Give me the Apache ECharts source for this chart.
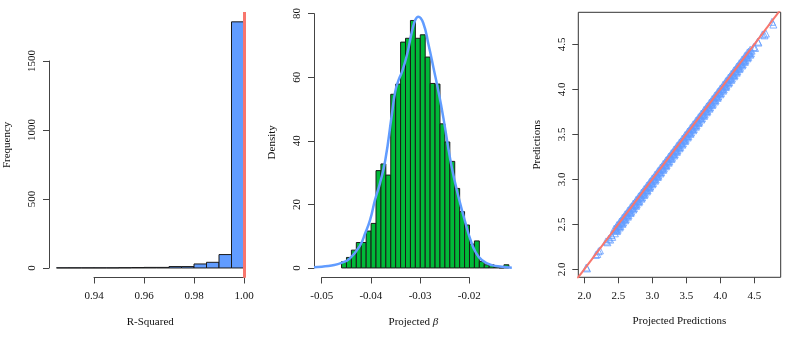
<!DOCTYPE html>
<html>
<head>
<meta charset="utf-8">
<script src="https://cdn.jsdelivr.net/npm/echarts@6/dist/echarts.min.js"></script>
<style>
html, body { margin: 0; padding: 0; background: #fff; }
#main { width: 793px; height: 340px; }
</style>
</head>
<body>
<div id="main"></div>
<script>
// panel 1: R-squared histogram
var r2Breaks = [0.925, 0.93, 0.935, 0.94, 0.945, 0.95, 0.955, 0.96, 0.965, 0.97, 0.975, 0.98, 0.985, 0.99, 0.995, 1.0];
var r2Counts = [1, 1, 1, 1, 1, 2, 3, 4, 4, 10, 10, 29, 41, 97, 1783];
var r2Ref = 1.0;
var r2Ticks = [0.94, 0.96, 0.98, 1.0];
var freqTicks = [0, 500, 1000, 1500];

// panel 2: projected beta histogram + density
var betaBreaks = [-0.046, -0.045, -0.044, -0.043, -0.042, -0.041, -0.040, -0.039, -0.038, -0.037, -0.036,
    -0.035, -0.034, -0.033, -0.032, -0.031, -0.030, -0.029, -0.028, -0.027, -0.026, -0.025, -0.024,
    -0.023, -0.022, -0.021, -0.020, -0.019, -0.018, -0.017, -0.016, -0.015, -0.014, -0.013, -0.012];
var betaDensity = [2.0, 3.3, 5.6, 8.0, 8.0, 11.6, 14.0, 30.6, 32.7, 29.2, 54.6, 57.8, 71.0, 72.2, 77.8,
    72.2, 73.3, 66.3, 58.0, 57.8, 45.3, 39.6, 33.5, 25.0, 17.7, 13.5, 7.5, 8.5, 2.0, 1.0, 1.0, 0.3, 0, 1.0];
var kdeX = [-0.0516, -0.0500, -0.0480, -0.0460, -0.0443, -0.0422, -0.0412, -0.0402, -0.0392, -0.0382,
    -0.0371, -0.0358, -0.0351, -0.0344, -0.0337, -0.0327, -0.0317, -0.0310, -0.0304, -0.0294, -0.0283,
    -0.0273, -0.0263, -0.0253, -0.0239, -0.0229, -0.0219, -0.0209, -0.0199, -0.0188, -0.0175, -0.0155,
    -0.0134, -0.0114];
var kdeY = [0.2, 0.4, 0.8, 1.6, 3.0, 7.2, 10.9, 15.1, 21.4, 26.6, 34.0, 48.0, 55.4, 59.1, 61.7, 67.0,
    74.3, 78.0, 79.0, 77.0, 70.0, 62.8, 55.4, 47.1, 34.0, 26.6, 20.3, 14.6, 9.3, 5.1, 2.5, 0.9, 0.4, 0.1];
var betaTicks = [-0.05, -0.04, -0.03, -0.02];
var densTicks = [0, 20, 40, 60, 80];

// panel 3: [projected prediction, prediction]
var predPoints = [
    [2.03, 2.02], [2.04, 2.01], [2.17, 2.16], [2.19, 2.17], [2.21, 2.20], [2.23, 2.21],
    [2.32, 2.31], [2.34, 2.30], [2.36, 2.34], [2.38, 2.33], [2.40, 2.38], [2.41, 2.36],
    [2.44, 2.45], [2.46, 2.435], [2.45, 2.40], [2.48, 2.49], [2.50, 2.475], [2.49, 2.44],
    [2.52, 2.53], [2.54, 2.515], [2.53, 2.48], [2.56, 2.57], [2.58, 2.555], [2.57, 2.52],
    [2.60, 2.61], [2.62, 2.595], [2.61, 2.56], [2.64, 2.65], [2.66, 2.635], [2.65, 2.60],
    [2.68, 2.69], [2.70, 2.675], [2.69, 2.64], [2.72, 2.73], [2.74, 2.715], [2.73, 2.68],
    [2.76, 2.77], [2.78, 2.755], [2.77, 2.72], [2.80, 2.81], [2.82, 2.795], [2.81, 2.76],
    [2.84, 2.85], [2.86, 2.835], [2.85, 2.80], [2.88, 2.89], [2.90, 2.875], [2.89, 2.84],
    [2.92, 2.93], [2.94, 2.915], [2.93, 2.88], [2.96, 2.97], [2.98, 2.955], [2.97, 2.92],
    [3.00, 3.01], [3.02, 2.995], [3.01, 2.96], [3.04, 3.05], [3.06, 3.035], [3.05, 3.00],
    [3.08, 3.09], [3.10, 3.075], [3.09, 3.04], [3.12, 3.13], [3.14, 3.115], [3.13, 3.08],
    [3.16, 3.17], [3.18, 3.155], [3.17, 3.12], [3.20, 3.21], [3.22, 3.195], [3.21, 3.16],
    [3.24, 3.25], [3.26, 3.235], [3.25, 3.20], [3.28, 3.29], [3.30, 3.275], [3.29, 3.24],
    [3.32, 3.33], [3.34, 3.315], [3.33, 3.28], [3.36, 3.37], [3.38, 3.355], [3.37, 3.32],
    [3.40, 3.41], [3.42, 3.395], [3.41, 3.36], [3.44, 3.45], [3.46, 3.435], [3.45, 3.40],
    [3.48, 3.49], [3.50, 3.475], [3.49, 3.44], [3.52, 3.53], [3.54, 3.515], [3.53, 3.48],
    [3.56, 3.57], [3.58, 3.555], [3.57, 3.52], [3.60, 3.61], [3.62, 3.595], [3.61, 3.56],
    [3.64, 3.65], [3.66, 3.635], [3.65, 3.60], [3.68, 3.69], [3.70, 3.675], [3.69, 3.64],
    [3.72, 3.73], [3.74, 3.715], [3.73, 3.68], [3.76, 3.77], [3.78, 3.755], [3.77, 3.72],
    [3.80, 3.81], [3.82, 3.795], [3.81, 3.76], [3.84, 3.85], [3.86, 3.835], [3.85, 3.80],
    [3.88, 3.89], [3.90, 3.875], [3.89, 3.84], [3.92, 3.93], [3.94, 3.915], [3.93, 3.88],
    [3.96, 3.97], [3.98, 3.955], [3.97, 3.92], [4.00, 4.01], [4.02, 3.995], [4.01, 3.96],
    [4.04, 4.05], [4.06, 4.035], [4.05, 4.00], [4.08, 4.09], [4.10, 4.075], [4.09, 4.04],
    [4.12, 4.13], [4.14, 4.115], [4.13, 4.08], [4.16, 4.17], [4.18, 4.155], [4.17, 4.12],
    [4.20, 4.21], [4.22, 4.195], [4.21, 4.16], [4.24, 4.25], [4.26, 4.235], [4.25, 4.20],
    [4.28, 4.29], [4.30, 4.275], [4.29, 4.24], [4.32, 4.33], [4.34, 4.315], [4.33, 4.28],
    [4.36, 4.37], [4.38, 4.355], [4.37, 4.32], [4.40, 4.41], [4.42, 4.395], [4.41, 4.36],
    [4.44, 4.44], [4.46, 4.43], [4.45, 4.40],
    [4.49, 4.47], [4.51, 4.46], [4.55, 4.53], [4.56, 4.52], [4.62, 4.61], [4.65, 4.60],
    [4.67, 4.62], [4.76, 4.75], [4.78, 4.72],
    [2.46, 2.46], [2.48, 2.425], [2.47, 2.445], [2.50, 2.50], [2.52, 2.465], [2.51, 2.485],
    [2.54, 2.54], [2.56, 2.505], [2.55, 2.525], [2.58, 2.58], [2.60, 2.545], [2.59, 2.565],
    [2.62, 2.62], [2.64, 2.585], [2.63, 2.605], [2.66, 2.66], [2.68, 2.625], [2.67, 2.645],
    [2.70, 2.70], [2.72, 2.665], [2.71, 2.685], [2.74, 2.74], [2.76, 2.705], [2.75, 2.725],
    [2.78, 2.78], [2.80, 2.745], [2.79, 2.765], [2.82, 2.82], [2.84, 2.785], [2.83, 2.805],
    [2.86, 2.86], [2.88, 2.825], [2.87, 2.845], [2.90, 2.90], [2.92, 2.865], [2.91, 2.885],
    [2.94, 2.94], [2.96, 2.905], [2.95, 2.925], [2.98, 2.98], [3.00, 2.945], [2.99, 2.965],
    [3.02, 3.02], [3.04, 2.985], [3.03, 3.005], [3.06, 3.06], [3.08, 3.025], [3.07, 3.045],
    [3.10, 3.10], [3.12, 3.065], [3.11, 3.085], [3.14, 3.14], [3.16, 3.105], [3.15, 3.125],
    [3.18, 3.18], [3.20, 3.145], [3.19, 3.165], [3.22, 3.22], [3.24, 3.185], [3.23, 3.205],
    [3.26, 3.26], [3.28, 3.225], [3.27, 3.245], [3.30, 3.30], [3.32, 3.265], [3.31, 3.285],
    [3.34, 3.34], [3.36, 3.305], [3.35, 3.325], [3.38, 3.38], [3.40, 3.345], [3.39, 3.365],
    [3.42, 3.42], [3.44, 3.385], [3.43, 3.405], [3.46, 3.46], [3.48, 3.425], [3.47, 3.445],
    [3.50, 3.50], [3.52, 3.465], [3.51, 3.485], [3.54, 3.54], [3.56, 3.505], [3.55, 3.525],
    [3.58, 3.58], [3.60, 3.545], [3.59, 3.565], [3.62, 3.62], [3.64, 3.585], [3.63, 3.605],
    [3.66, 3.66], [3.68, 3.625], [3.67, 3.645], [3.70, 3.70], [3.72, 3.665], [3.71, 3.685],
    [3.74, 3.74], [3.76, 3.705], [3.75, 3.725], [3.78, 3.78], [3.80, 3.745], [3.79, 3.765],
    [3.82, 3.82], [3.84, 3.785], [3.83, 3.805], [3.86, 3.86], [3.88, 3.825], [3.87, 3.845],
    [3.90, 3.90], [3.92, 3.865], [3.91, 3.885], [3.94, 3.94], [3.96, 3.905], [3.95, 3.925],
    [3.98, 3.98], [4.00, 3.945], [3.99, 3.965], [4.02, 4.02], [4.04, 3.985], [4.03, 4.005],
    [4.06, 4.06], [4.08, 4.025], [4.07, 4.045], [4.10, 4.10], [4.12, 4.065], [4.11, 4.085],
    [4.14, 4.14], [4.16, 4.105], [4.15, 4.125], [4.18, 4.18], [4.20, 4.145], [4.19, 4.165],
    [4.22, 4.22], [4.24, 4.185], [4.23, 4.205], [4.26, 4.26], [4.28, 4.225], [4.27, 4.245],
    [4.30, 4.30], [4.32, 4.265], [4.31, 4.285], [4.34, 4.34], [4.36, 4.305], [4.35, 4.325],
    [4.38, 4.38], [4.40, 4.345], [4.39, 4.365], [4.42, 4.42], [4.44, 4.385], [4.43, 4.405]
];
var predTicks = [2.0, 2.5, 3.0, 3.5, 4.0, 4.5];
var ablineEnds = [1.8, 5.0];

var font = 'Liberation Serif';
var axisColor = '#444';
var blue = '#619CFF', green = '#00BA38', red = '#F8766D';

var nameStyle = { fontFamily: font, fontSize: 11, color: '#111' };

function hidden(gi) {
    return { type: 'value', gridIndex: gi, show: false, min: 0, max: 1 };
}
function mainAxis(gi, min, max, name, gap) {
    return {
        type: 'value', gridIndex: gi, min: min, max: max,
        axisLine: { show: false }, axisTick: { show: false }, axisLabel: { show: false },
        splitLine: { show: false },
        name: name, nameLocation: 'middle', nameGap: gap, nameTextStyle: nameStyle
    };
}
function tickAxis(gi, ticks, fmt, rot) {
    return {
        type: 'value', gridIndex: gi, min: ticks[0], max: ticks[ticks.length - 1],
        interval: +(ticks[1] - ticks[0]).toFixed(6),
        axisLine: { show: true, lineStyle: { color: axisColor, width: 1 } },
        axisTick: { show: true, length: 6, lineStyle: { color: axisColor } },
        axisLabel: { margin: rot ? 11 : 13, rotate: rot || 0, fontFamily: font, fontSize: 11, color: '#111', formatter: fmt },
        splitLine: { show: false }
    };
}
function histSeries(ai, breaks, heights, fill) {
    var data = heights.map(function (h, i) { return [breaks[i], breaks[i + 1], h]; });
    return {
        type: 'custom', xAxisIndex: ai, yAxisIndex: ai, data: data, clip: true,
        encode: { x: [0, 1], y: 2 },
        renderItem: function (params, api) {
            var a = api.coord([api.value(0), 0]);
            var b = api.coord([api.value(1), api.value(2)]);
            return {
                type: 'rect',
                shape: { x: a[0], y: b[1], width: b[0] - a[0], height: a[1] - b[1] },
                style: { fill: fill, stroke: '#1a1a1a', lineWidth: 1 }
            };
        }
    };
}

var chart = echarts.init(document.getElementById('main'));

var option = {
    animation: false,
    backgroundColor: '#fff',
    grid: [
        { left: 49, top: 12, width: 202.5, height: 265.8 },
        { left: 94, top: 267, width: 150, height: 10.5 },
        { left: 49, top: 61, width: 10, height: 207 },
        { left: 314, top: 6.6, width: 198.8, height: 271.4 },
        { left: 321.7, top: 267, width: 147.6, height: 10.5 },
        { left: 314, top: 13.6, width: 10, height: 254.4 },
        { left: 578.3, top: 12.3, width: 202.4, height: 265, show: true, borderColor: '#333', borderWidth: 1 }
    ],
    xAxis: [
        mainAxis(0, 0.922, 1.003, 'R-Squared', 38.5),
        tickAxis(1, r2Ticks, function (v) { return v.toFixed(2); }),
        hidden(2),
        mainAxis(3, -0.0516, -0.0112, 'Projected {b|β}', 38.5),
        tickAxis(4, betaTicks, function (v) { return v.toFixed(2); }),
        hidden(5),
        {
            type: 'value', gridIndex: 6, min: 1.912, max: 4.888,
            axisLine: { show: false },
            axisTick: { show: true, length: 6, customValues: predTicks, lineStyle: { color: axisColor } },
            axisLabel: { margin: 13, customValues: predTicks, fontFamily: font, fontSize: 11, color: '#111',
                formatter: function (v) { return v.toFixed(1); } },
            splitLine: { show: false },
            name: 'Projected Predictions', nameLocation: 'middle', nameGap: 38.5, nameTextStyle: nameStyle
        }
    ],
    yAxis: [
        mainAxis(0, -71.3, 1854.3, 'Frequency', 36),
        hidden(1),
        tickAxis(2, freqTicks, function (v) { return String(v); }, 90),
        mainAxis(3, -3.16, 82.16, 'Density', 36),
        hidden(4),
        tickAxis(5, densTicks, function (v) { return String(v); }, 90),
        {
            type: 'value', gridIndex: 6, min: 1.911, max: 4.856,
            axisLine: { show: false },
            axisTick: { show: true, length: 6, customValues: predTicks, lineStyle: { color: axisColor } },
            axisLabel: { margin: 11, rotate: 90, customValues: predTicks, fontFamily: font, fontSize: 11, color: '#111',
                formatter: function (v) { return v.toFixed(1); } },
            splitLine: { show: false },
            name: 'Predictions', nameLocation: 'middle', nameGap: 36, nameTextStyle: nameStyle
        }
    ],
    series: [
        (function () {
            var s = histSeries(0, r2Breaks, r2Counts, blue);
            s.markLine = {
                silent: true, symbol: ['none', 'none'], label: { show: false },
                lineStyle: { color: red, width: 3, type: 'solid' },
                data: [{ xAxis: r2Ref }]
            };
            return s;
        })(),
        histSeries(3, betaBreaks, betaDensity, green),
        {
            type: 'line', xAxisIndex: 3, yAxisIndex: 3, smooth: true, symbol: 'none', clip: true,
            data: kdeX.map(function (x, i) { return [x, kdeY[i]]; }),
            lineStyle: { color: blue, width: 2.5 }, z: 5
        },
        {
            type: 'scatter', xAxisIndex: 6, yAxisIndex: 6, symbol: 'triangle', symbolSize: 7,
            data: predPoints,
            itemStyle: { color: 'rgba(0,0,0,0)', borderColor: blue, borderWidth: 1 }
        },
        {
            type: 'line', xAxisIndex: 6, yAxisIndex: 6, symbol: 'none', clip: true,
            data: ablineEnds.map(function (v) { return [v, v]; }),
            lineStyle: { color: red, width: 2 }, z: 5
        }
    ]
};
option.xAxis[3].nameTextStyle = {
    fontFamily: font, fontSize: 11, color: '#111',
    rich: { b: { fontFamily: font, fontSize: 11, fontStyle: 'italic', color: '#111' } }
};

chart.setOption(option);
</script>
</body>
</html>
